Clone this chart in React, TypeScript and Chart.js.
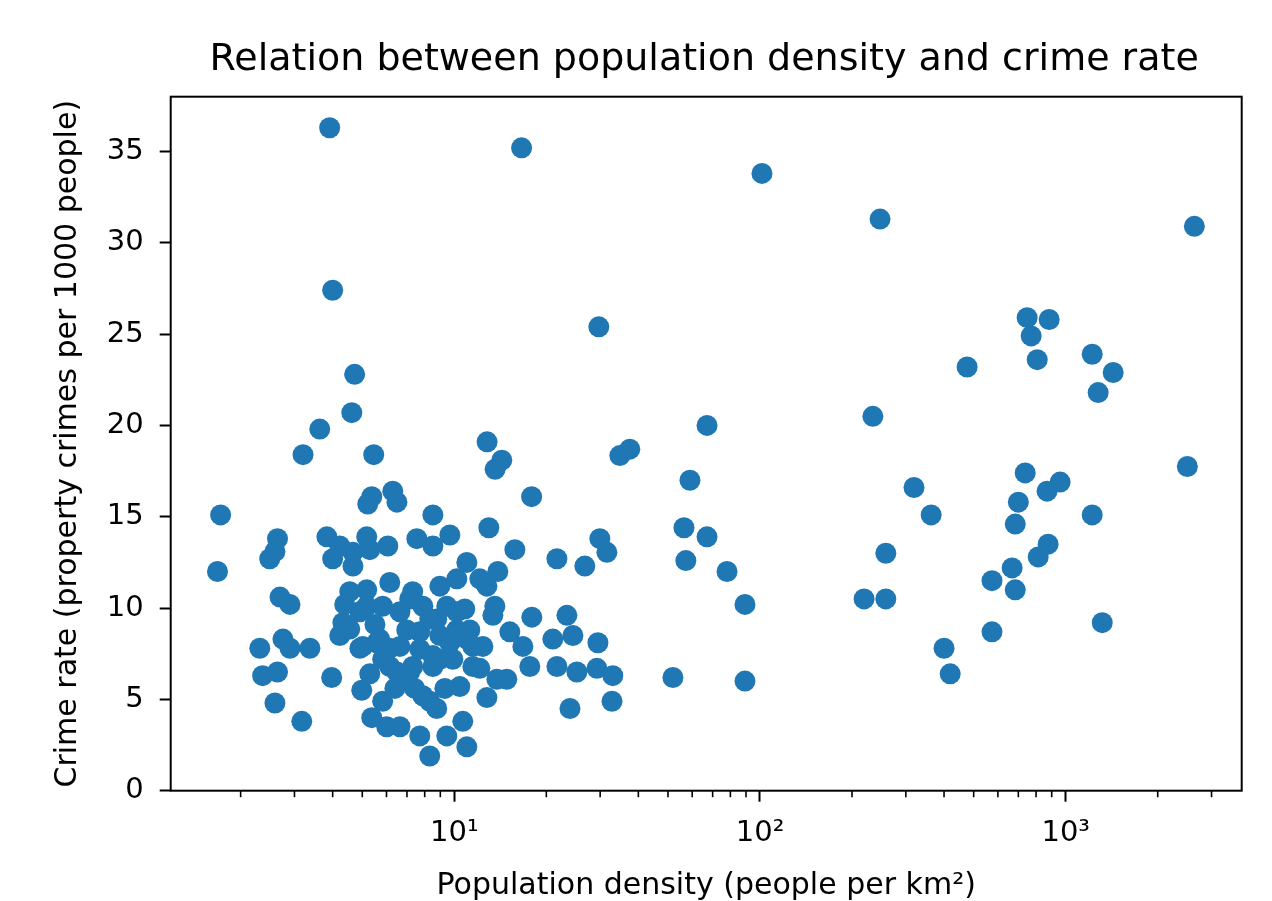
import React, { useEffect, useRef } from 'react';
import { Chart, registerables } from 'chart.js';

Chart.register(...registerables);

// ---- Data ----
const density: number[] = [
  3.91, 16.6, 101.5, 247, 2636, 4.0, 29.7, 748, 883, 771,
  807, 1221, 1430, 1277, 476, 4.72, 4.62, 234, 67.1, 3.63,
  12.8, 3.2, 5.45, 14.3, 13.6, 37.5, 34.8, 17.9, 59.0, 737,
  2500, 959, 869, 319, 700, 684, 1221, 876, 813, 668,
  574, 684, 574, 1317, 1.72, 1.68, 56.4, 67.1, 57.2, 78.0,
  89.3, 89.3, 51.9, 363, 258, 219, 258, 400, 419, 5.37,
  6.29, 6.49, 5.21, 8.51, 2.64, 2.59, 2.49, 3.83, 4.22, 4.0,
  4.66, 4.66, 5.17, 5.29, 6.06, 7.54, 8.51, 9.67, 10.99, 12.97,
  15.78, 21.66, 26.73, 29.93, 31.56, 12.12, 13.88, 12.78, 2.69, 2.9,
  4.55, 5.17, 6.15, 7.31, 8.97, 10.19, 4.32, 4.22, 5.17, 5.83,
  6.64, 7.89, 9.45, 4.91, 8.76, 10.19, 13.37, 13.57, 17.93, 23.35,
  2.31, 2.75, 2.9, 3.37, 2.36, 2.64, 2.59, 3.17, 3.97, 4.98,
  4.91, 5.7, 6.64, 7.71, 8.97, 10.19, 5.58, 6.15, 6.99, 8.51,
  9.67, 11.24, 12.4, 10.99, 6.15, 7.15, 8.51, 9.89, 11.5, 12.12,
  10.42, 13.78, 12.78, 5.83, 5.37, 6.78, 7.89, 8.31, 8.76, 6.01,
  6.64, 7.71, 9.45, 10.66, 10.99, 8.31, 15.19, 16.76, 17.66, 21.0,
  24.43, 29.5, 21.66, 25.18, 29.27, 33.0, 32.8, 23.9, 14.85, 11.5,
  6.49, 7.31, 5.83, 5.02, 4.38, 5.5, 7.71, 8.97, 5.29, 6.39,
  7.42, 9.31, 4.55, 10.82, 8.31, 7.15,
];

const crimeRate: number[] = [
  36.3, 35.2, 33.8, 31.3, 30.9, 27.4, 25.4, 25.9, 25.8, 24.9,
  23.6, 23.9, 22.9, 21.8, 23.2, 22.8, 20.7, 20.5, 20.0, 19.8,
  19.1, 18.4, 18.4, 18.1, 17.6, 18.7, 18.35, 16.1, 17.0, 17.4,
  17.75, 16.9, 16.4, 16.6, 15.8, 14.6, 15.1, 13.5, 12.8, 12.2,
  11.5, 11.0, 8.7, 9.2, 15.1, 12.0, 14.4, 13.9, 12.6, 12.0,
  10.2, 6.0, 6.2, 15.1, 13.0, 10.5, 10.5, 7.8, 6.4, 16.1,
  16.4, 15.8, 15.7, 15.1, 13.8, 13.1, 12.7, 13.9, 13.4, 12.7,
  13.05, 12.3, 13.9, 13.2, 13.4, 13.8, 13.4, 14.0, 12.5, 14.4,
  13.2, 12.7, 12.3, 13.8, 13.05, 11.6, 12.0, 11.2, 10.6, 10.2,
  10.9, 11.0, 11.4, 10.9, 11.2, 11.6, 9.2, 8.5, 10.1, 10.1,
  9.8, 10.1, 10.1, 9.8, 9.4, 9.8, 9.6, 10.1, 9.5, 9.6,
  7.8, 8.3, 7.8, 7.8, 6.3, 6.5, 4.8, 3.8, 6.2, 5.5,
  7.8, 8.3, 7.9, 8.7, 8.5, 8.8, 8.1, 7.8, 8.8, 7.4,
  8.1, 8.8, 7.9, 8.3, 6.8, 6.5, 6.8, 7.2, 6.8, 6.7,
  5.7, 6.1, 5.1, 4.9, 4.0, 6.1, 5.2, 4.9, 4.5, 3.5,
  3.5, 3.0, 3.0, 3.8, 2.4, 1.9, 8.7, 7.9, 6.8, 8.3,
  8.5, 8.1, 6.8, 6.5, 6.7, 6.3, 4.9, 4.5, 6.1, 7.9,
  6.5, 6.8, 7.2, 7.9, 10.2, 9.1, 7.75, 7.2, 6.4, 5.6,
  5.6, 5.6, 8.85, 9.95, 9.4, 10.5,
];

const yTickValues: number[] = [0, 5, 10, 15, 20, 25, 30, 35];
const xMajorLabels: Record<number, string> = { 1: '10¹', 2: '10²', 3: '10³' };
const xMinorMultipliers: number[] = [2, 3, 4, 5, 6, 7, 8, 9];
const xDecades: number[] = [0, 1, 2, 3];

const chartTitle = 'Relation between population density and crime rate';
const xAxisTitle = 'Population density (people per km²)';
const yAxisTitle = 'Crime rate (property crimes per 1000 people)';

const X_MIN = 1.181;
const X_MAX = 3765;
const Y_MIN = 0;
const Y_MAX = 38;

const FONT = "'DejaVu Sans', sans-serif";
const BLUE = '#1f77b4';

const isPow10 = (v: number) => {
  if (!(v > 0)) return false;
  const l = Math.log10(v);
  return Math.abs(l - Math.round(l)) < 1e-9;
};

const frameAndTitle = {
  id: 'frameAndTitle',
  afterDraw(chart: any) {
    const { ctx, chartArea } = chart;
    const xs = chart.scales.x;
    ctx.save();
    // minor ticks on log axis
    ctx.strokeStyle = '#000';
    ctx.lineWidth = 1.6;
    for (const d of xDecades) {
      for (const m of xMinorMultipliers) {
        const v = m * Math.pow(10, d);
        if (v < X_MIN || v > X_MAX) continue;
        const px = xs.getPixelForValue(v);
        ctx.beginPath();
        ctx.moveTo(px, chartArea.bottom);
        ctx.lineTo(px, chartArea.bottom + 6.5);
        ctx.stroke();
      }
    }
    // frame
    ctx.lineWidth = 2;
    ctx.strokeRect(chartArea.left, chartArea.top, chartArea.right - chartArea.left, chartArea.bottom - chartArea.top);
    // title
    ctx.fillStyle = '#000';
    ctx.font = `38px ${FONT}`;
    ctx.textAlign = 'center';
    ctx.textBaseline = 'alphabetic';
    ctx.fillText(chartTitle, (chartArea.left + chartArea.right) / 2 - 2, 70);
    ctx.restore();
  },
};

export default function App() {
  const ref = useRef<HTMLCanvasElement | null>(null);

  useEffect(() => {
    if (!ref.current) return;
    const points = density.map((d, i) => ({ x: d, y: crimeRate[i] }));
    const chart = new Chart(ref.current, {
      type: 'scatter',
      data: {
        datasets: [
          {
            data: points,
            backgroundColor: BLUE,
            borderColor: BLUE,
            borderWidth: 0,
            pointRadius: 10.5,
            pointHoverRadius: 10.5,
          },
        ],
      },
      options: {
        responsive: false,
        animation: false,
        devicePixelRatio: 1,
        layout: { padding: { left: 0, right: 30.3, top: 96.7, bottom: 0 } },
        plugins: {
          legend: { display: false },
          title: { display: false },
          tooltip: { enabled: false },
        },
        scales: {
          x: {
            type: 'logarithmic',
            min: X_MIN,
            max: X_MAX,
            border: { display: false },
            grid: {
              display: true,
              drawOnChartArea: false,
              drawTicks: true,
              tickLength: 11,
              tickWidth: 2,
              tickColor: (c: any) => (c.tick && isPow10(c.tick.value) ? '#000' : 'rgba(0,0,0,0)'),
            },
            ticks: {
              autoSkip: false,
              maxRotation: 0,
              minRotation: 0,
              padding: 14,
              color: '#000',
              font: { family: FONT, size: 29 },
              callback: (v: any) => {
                const n = Number(v);
                if (!isPow10(n)) return '';
                return xMajorLabels[Math.round(Math.log10(n))] ?? '';
              },
            },
            title: {
              display: true,
              text: xAxisTitle,
              color: '#000',
              font: { family: FONT, size: 30 },
              padding: { top: 0, bottom: -3 },
            },
            afterFit: (s: any) => {
              s.height = 110.3;
            },
          },
          y: {
            type: 'linear',
            min: Y_MIN,
            max: Y_MAX,
            border: { display: false },
            grid: {
              display: true,
              drawOnChartArea: false,
              drawTicks: true,
              tickLength: 11,
              tickWidth: 2,
              tickColor: (c: any) => (c.tick && yTickValues.includes(c.tick.value) ? '#000' : 'rgba(0,0,0,0)'),
            },
            ticks: {
              stepSize: 5,
              autoSkip: false,
              padding: 16,
              color: '#000',
              font: { family: FONT, size: 29 },
              callback: (v: any) => (yTickValues.includes(Number(v)) ? String(v) : ''),
            },
            title: {
              display: true,
              text: yAxisTitle,
              color: '#000',
              font: { family: FONT, size: 30 },
              padding: { top: 50, bottom: 0 },
            },
            afterFit: (s: any) => {
              s.width = 170.7;
            },
          },
        },
      },
      plugins: [frameAndTitle],
    } as any);
    return () => chart.destroy();
  }, []);

  return (
    <div style={{ position: 'fixed', left: 0, top: 0, width: 1272, height: 901, background: '#fff' }}>
      <canvas ref={ref} width={1272} height={901} style={{ display: 'block' }} />
    </div>
  );
}
